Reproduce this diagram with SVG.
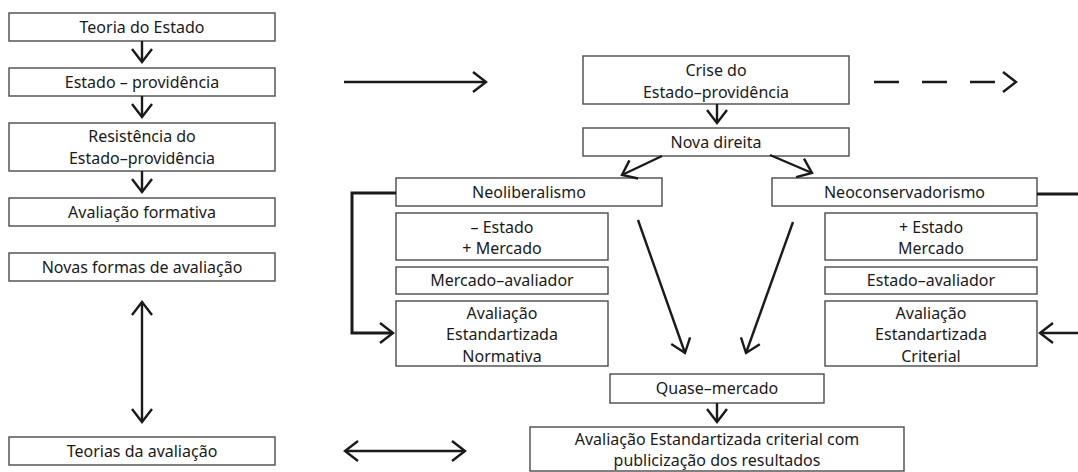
<svg xmlns="http://www.w3.org/2000/svg" width="1078" height="472" viewBox="0 0 1078 472">
<style>
.box{fill:#fff;stroke:#4a4a4a;stroke-width:1.4}
text{font-family:"Noto Sans","Open Sans",sans-serif;font-size:16px;fill:#1a1a1a;text-anchor:middle}
.c{fill:none;stroke:#1a1a1a;stroke-width:2.4}
.t{fill:none;stroke:#1a1a1a;stroke-width:3}
</style>
<defs>
<marker id="ah" viewBox="-16 -12 19 24" refX="0" refY="0" markerWidth="19" markerHeight="24" markerUnits="userSpaceOnUse" orient="auto-start-reverse">
<path d="M-13,-10 L0,0 L-13,10" fill="none" stroke="#1a1a1a" stroke-width="2.4"/>
</marker>
</defs>
<rect width="1078" height="472" fill="#fff"/>

<g id="n1"><rect class="box" x="9" y="13" width="266" height="28"/><text x="142" y="33">Teoria do Estado</text></g>
<g id="n2"><rect class="box" x="9" y="68" width="266" height="28"/><text x="142" y="88">Estado – providência</text></g>
<g id="n3"><rect class="box" x="9" y="123" width="266" height="48"/><text x="142" y="142">Resistência do</text><text x="142" y="164">Estado–providência</text></g>
<g id="n4"><rect class="box" x="9" y="198" width="266" height="28"/><text x="142" y="218">Avaliação formativa</text></g>
<g id="n5"><rect class="box" x="9" y="253" width="266" height="28"/><text x="142" y="273">Novas formas de avaliação</text></g>
<g id="n6"><rect class="box" x="9" y="437" width="266" height="28"/><text x="142" y="457">Teorias da avaliação</text></g>

<g id="n7"><rect class="box" x="583" y="56" width="266" height="48"/><text x="716" y="76">Crise do</text><text x="716" y="98">Estado–providência</text></g>
<g id="n8"><rect class="box" x="583" y="128" width="266" height="28"/><text x="716" y="148">Nova direita</text></g>

<g id="n9"><rect class="box" x="396" y="178" width="266" height="28"/><text x="529" y="198">Neoliberalismo</text></g>
<g id="n10"><rect class="box" x="396" y="213" width="212" height="47"/><text x="502" y="233">– Estado</text><text x="502" y="254">+ Mercado</text></g>
<g id="n11"><rect class="box" x="396" y="267" width="212" height="27"/><text x="502" y="286">Mercado–avaliador</text></g>
<g id="n12"><rect class="box" x="396" y="301" width="212" height="65"/><text x="502" y="319">Avaliação</text><text x="502" y="340">Estandartizada</text><text x="502" y="362">Normativa</text></g>

<g id="n13"><rect class="box" x="772" y="178" width="265" height="28"/><text x="904.5" y="198">Neoconservadorismo</text></g>
<g id="n14"><rect class="box" x="825" y="213" width="212" height="47"/><text x="931" y="233">+ Estado</text><text x="931" y="254">Mercado</text></g>
<g id="n15"><rect class="box" x="825" y="267" width="212" height="27"/><text x="931" y="286">Estado–avaliador</text></g>
<g id="n16"><rect class="box" x="825" y="301" width="212" height="65"/><text x="931" y="319">Avaliação</text><text x="931" y="340">Estandartizada</text><text x="931" y="362">Criterial</text></g>

<g id="n17"><rect class="box" x="610" y="374" width="214" height="29"/><text x="717" y="394">Quase–mercado</text></g>
<g id="n18"><rect class="box" x="530" y="427" width="374" height="44"/><text x="717" y="445">Avaliação Estandartizada criterial com</text><text x="717" y="466">publicização dos resultados</text></g>

<g id="connectors">
<line class="c" x1="142" y1="41" x2="142" y2="62" marker-end="url(#ah)"/>
<line class="c" x1="142" y1="96" x2="142" y2="117" marker-end="url(#ah)"/>
<line class="c" x1="142" y1="171" x2="142" y2="192" marker-end="url(#ah)"/>
<line class="c" x1="142" y1="302" x2="142" y2="422" marker-start="url(#ah)" marker-end="url(#ah)"/>
<line class="c" x1="344" y1="82" x2="486" y2="82" marker-end="url(#ah)"/>
<line class="c" x1="874" y1="82" x2="1016" y2="82" stroke-dasharray="25 23" marker-end="url(#ah)"/>
<line class="c" x1="717" y1="104" x2="717" y2="123" marker-end="url(#ah)"/>
<line class="c" x1="662" y1="156" x2="622" y2="175" marker-end="url(#ah)"/>
<line class="c" x1="770" y1="155" x2="812" y2="173" marker-end="url(#ah)"/>
<line class="c" x1="638" y1="220" x2="685" y2="353" marker-end="url(#ah)"/>
<line class="c" x1="793" y1="222" x2="746" y2="353" marker-end="url(#ah)"/>
<line class="c" x1="717" y1="403" x2="717" y2="422" marker-end="url(#ah)"/>
<line class="c" x1="345" y1="451" x2="465" y2="451" marker-start="url(#ah)" marker-end="url(#ah)"/>
<polyline class="t" points="396,193 352,193 352,333 393,333" marker-end="url(#ah)"/>
<line class="t" x1="1037" y1="194" x2="1078" y2="194"/>
<line class="c" x1="1078" y1="333" x2="1040" y2="333" marker-end="url(#ah)"/>
</g>
</svg>
